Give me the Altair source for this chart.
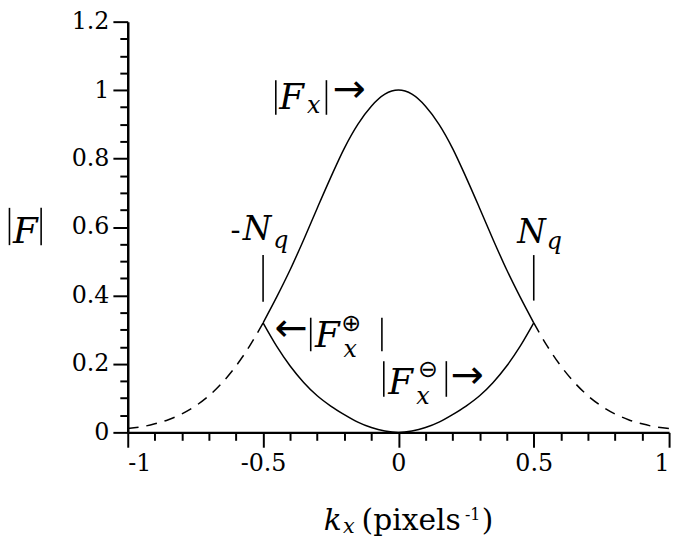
import altair as alt
import pandas as pd

# ---------------- data ----------------
k_upper = [-1.0, -0.95, -0.9, -0.85, -0.8, -0.75, -0.7, -0.65, -0.6, -0.55,
           -0.5, -0.45, -0.4, -0.35, -0.3, -0.25, -0.2, -0.15, -0.1, -0.05,
           0.0, 0.05, 0.1, 0.15, 0.2, 0.25, 0.3, 0.35, 0.4, 0.45,
           0.5, 0.55, 0.6, 0.65, 0.7, 0.75, 0.8, 0.85, 0.9, 0.95, 1.0]
F_upper = [0.011, 0.016, 0.025, 0.037, 0.054, 0.077, 0.107, 0.146, 0.194, 0.252,
           0.320, 0.395, 0.475, 0.563, 0.655, 0.745, 0.830, 0.900, 0.953, 0.988,
           1.000, 0.988, 0.953, 0.900, 0.830, 0.745, 0.655, 0.563, 0.475, 0.395,
           0.320, 0.252, 0.194, 0.146, 0.107, 0.077, 0.054, 0.037, 0.025, 0.016, 0.011]

k_lower = [-0.5, -0.45, -0.4, -0.35, -0.3, -0.25, -0.2, -0.15, -0.1, -0.05,
           0.0, 0.05, 0.1, 0.15, 0.2, 0.25, 0.3, 0.35, 0.4, 0.45, 0.5]
F_lower = [0.320, 0.252, 0.194, 0.146, 0.107, 0.077, 0.052, 0.030, 0.014, 0.004,
           0.000, 0.004, 0.014, 0.030, 0.052, 0.077, 0.107, 0.146, 0.194, 0.252, 0.320]

x_major = [-1, -0.5, 0, 0.5, 1]
x_minor = [-0.9, -0.8, -0.7, -0.6, -0.4, -0.3, -0.2, -0.1,
           0.1, 0.2, 0.3, 0.4, 0.6, 0.7, 0.8, 0.9]
y_major = [0, 0.2, 0.4, 0.6, 0.8, 1, 1.2]
y_minor = [0.05, 0.1, 0.15, 0.25, 0.3, 0.35, 0.45, 0.5, 0.55, 0.65, 0.7, 0.75,
           0.85, 0.9, 0.95, 1.05, 1.1, 1.15]

# annotation pieces (data coordinates)
big_italic = pd.DataFrame({
    "x": [-0.440, -0.308, -0.038, -1.424],
    "y": [0.946, 0.249, 0.113, 0.552],
    "t": ["F", "F", "F", "F"],
})
n_italic = pd.DataFrame({
    "x": [-0.575, 0.439],
    "y": [0.561, 0.552],
    "t": ["N", "N"],
})
sub_italic = pd.DataFrame({
    "x": [-0.338, -0.462, 0.548, -0.203, 0.066],
    "y": [0.934, 0.538, 0.535, 0.220, 0.084],
    "t": ["x", "q", "q", "x", "x"],
})
title_italic = pd.DataFrame({"x": [-0.276], "y": [-0.286], "t": ["k"]})
title_sub = pd.DataFrame({"x": [-0.205], "y": [-0.295], "t": ["x"]})
title_upright = pd.DataFrame({
    "x": [-0.136, 0.308],
    "y": [-0.286, -0.286],
    "t": ["(pixels", ")"],
})
title_sup = pd.DataFrame({"x": [0.246], "y": [-0.255], "t": ["-1"]})
hyphen = pd.DataFrame({"x": [-0.620], "y": [0.561], "t": ["-"]})
symbols = pd.DataFrame({
    "x": [-0.211, 0.072],
    "y": [0.315, 0.182],
    "t": ["⊕", "⊖"],
})
arrows = pd.DataFrame({
    "x": [-0.243, -0.458, 0.193],
    "y": [1.000, 0.301, 0.165],
    "t": ["→", "←", "→"],
})
bars = pd.DataFrame({
    "x": [-0.453, -0.266, -0.5, 0.5, -0.324, -0.061, -0.054, 0.177, -1.437, -1.320],
    "y": [1.029, 1.029, 0.518, 0.518, 0.335, 0.335, 0.208, 0.208, 0.656, 0.656],
    "y2": [0.928, 0.928, 0.382, 0.385, 0.237, 0.237, 0.104, 0.104, 0.547, 0.547],
})

FONT = "DejaVu Serif"
xs = alt.Scale(domain=[-1, 1], nice=False, zero=False)
ys = alt.Scale(domain=[0, 1.2], nice=False, zero=False)

up = pd.DataFrame({"k": k_upper, "F": F_upper})
left_tail = up[up.k <= -0.5]
mid = up[(up.k >= -0.5) & (up.k <= 0.5)]
right_tail = up[up.k >= 0.5]
low = pd.DataFrame({"k": k_lower, "F": F_lower})

axis_common = dict(domainColor="black", domainWidth=2.5, tickColor="black",
                   tickWidth=2, grid=False, title=None, labelFont=FONT,
                   labelFontSize=24, labelColor="black",
                   labelExpr="datum.value + ''")

major = alt.Chart(mid).mark_line(color="black", strokeWidth=1.5, interpolate="monotone").encode(
    x=alt.X("k:Q", scale=xs, axis=alt.Axis(values=x_major, tickSize=15, labelPadding=5,
                                           orient="bottom", **axis_common)),
    y=alt.Y("F:Q", scale=ys, axis=alt.Axis(values=y_major, tickSize=15, labelPadding=4,
                                           orient="left", **axis_common)),
)

minor = alt.Chart(mid).mark_point(opacity=0).encode(
    x=alt.X("k:Q", scale=xs, axis=alt.Axis(values=x_minor, tickSize=8, labels=False,
                                           domain=False, orient="bottom", tickColor="black",
                                           tickWidth=2, grid=False, title=None)),
    y=alt.Y("F:Q", scale=ys, axis=alt.Axis(values=y_minor, tickSize=8, labels=False,
                                           domain=False, orient="left", tickColor="black",
                                           tickWidth=2, grid=False, title=None)),
)


def line(df, dash=None):
    kw = dict(color="black", strokeWidth=1.5, interpolate="monotone")
    if dash:
        kw["strokeDash"] = dash
    return alt.Chart(df).mark_line(**kw).encode(
        x=alt.X("k:Q", scale=xs, axis=None), y=alt.Y("F:Q", scale=ys, axis=None))


def text(df, size, style="normal", baseline="alphabetic", font=FONT):
    return alt.Chart(df).mark_text(align="left", baseline=baseline, font=font,
                                   fontSize=size, fontStyle=style, color="black").encode(
        x=alt.X("x:Q", scale=xs, axis=None), y=alt.Y("y:Q", scale=ys, axis=None), text="t:N")


bar_layer = alt.Chart(bars).mark_rule(color="black", strokeWidth=1.6).encode(
    x=alt.X("x:Q", scale=xs, axis=None), y=alt.Y("y:Q", scale=ys, axis=None),
    y2="y2:Q")

chart = alt.layer(
    major, minor,
    line(left_tail, [11, 8]), line(right_tail, [11, 8]), line(low),
    bar_layer,
    text(big_italic, 36, "italic"),
    text(n_italic, 33, "italic"),
    text(sub_italic, 24, "italic"),
    text(hyphen, 30),
    text(title_italic, 30, "italic"),
    text(title_sub, 21, "italic"),
    text(title_upright, 30),
    text(title_sup, 16),
    text(symbols, 24, font="DejaVu Sans", baseline="middle"),
    text(arrows, 40, font="DejaVu Sans", baseline="middle"),
).resolve_axis(x="independent", y="independent").properties(
    width=547, height=415,
    autosize=alt.AutoSizeParams(type="none"),
    padding={"left": 121, "top": 11, "right": 8, "bottom": 111},
).configure_view(stroke=None)

chart.save("out.html", embed_options={"renderer": "svg", "actions": False})
